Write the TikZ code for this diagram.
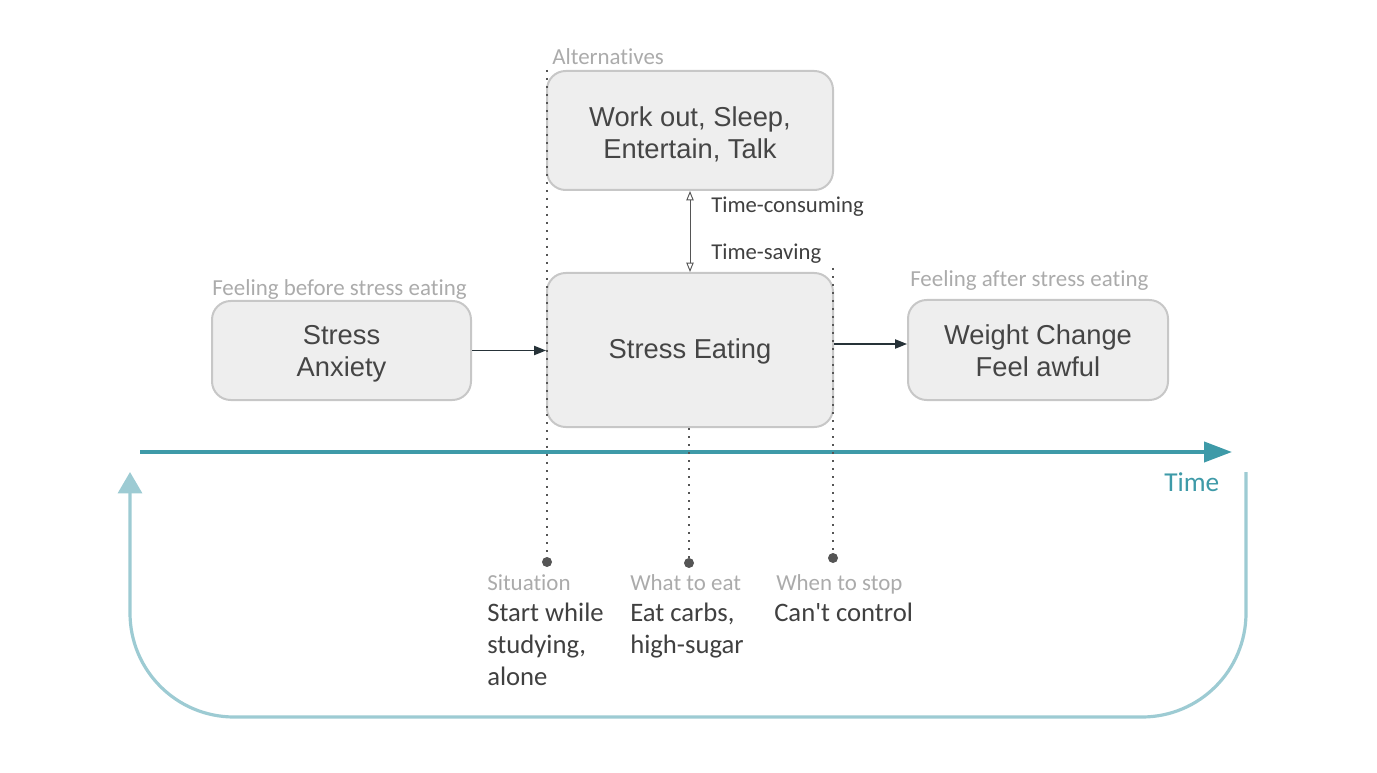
\documentclass[tikz,border=0pt]{standalone}
\usepackage{fontspec}
\setmainfont{Carlito}[Ligatures={NoCommon}]
\newfontfamily\carlnq{Carlito}[Ligatures={NoCommon}]
\newfontfamily\arialf{Liberation Sans}
\usetikzlibrary{arrows.meta}
\definecolor{boxfill}{HTML}{EEEEEE}
\definecolor{boxline}{HTML}{C7C7C7}
\definecolor{boxtext}{HTML}{454545}
\definecolor{lblgray}{HTML}{ABABAB}
\definecolor{bodytext}{HTML}{404040}
\definecolor{teal}{HTML}{3E9AA8}
\definecolor{lteal}{HTML}{9DCBD3}
\definecolor{darkarr}{HTML}{263238}
\definecolor{dotcol}{HTML}{555555}
\newcommand{\boxlines}[2][2pt]{\raisebox{-#1}[\height][\depth]{\begin{tabular}{@{}c@{}}#2\end{tabular}}}
\tikzset{
  box/.style={draw=boxline, line width=1.5pt, fill=boxfill, rounded corners=14pt,
    text=boxtext, font=\arialf\fontsize{20.5}{24}\selectfont, align=center, inner sep=0pt},
  lbl/.style={text=lblgray, font=\fontsize{17.2}{20}\selectfont, anchor=base west, inner sep=0pt},
  body/.style={text=bodytext, font=\fontsize{20}{24}\selectfont, anchor=base west, align=left, inner sep=0pt},
  small/.style={text=bodytext, font=\fontsize{17}{20}\selectfont, anchor=base west, inner sep=0pt},
  flow/.style={draw=darkarr, line width=0.9pt, -{Triangle[length=9pt,width=7pt]}},
  dbl/.style={draw=dotcol, line width=0.7pt, {Triangle[open,length=7pt,width=5.5pt]}-{Triangle[open,length=7pt,width=5.5pt]}},
  dots/.style={draw=dotcol, line width=1.6pt, dash pattern=on 1.6pt off 4.4pt},
  endpt/.style={circle, fill=dotcol, inner sep=0pt, minimum size=7.5pt},
}
\begin{document}
\begin{tikzpicture}[x=0.75pt,y=-0.75pt]
\useasboundingbox (0,0) rectangle (1377,773);
% boxes
\node[box, minimum width=214.5pt, minimum height=89.25pt] (alt) at (690,130.5) {\boxlines[4pt]{Work out, Sleep,\\Entertain, Talk}};
\node[box, minimum width=214.5pt, minimum height=115.5pt] (eat) at (690,350) {\boxlines[1.5pt]{Stress Eating}};
\node[box, minimum width=194.25pt, minimum height=74.25pt] (anx) at (341.5,350.5) {\boxlines[3pt]{Stress\\Anxiety}};
\node[box, minimum width=195pt, minimum height=75pt] (wc) at (1038,350) {\boxlines[3pt]{Weight Change\\Feel awful}};
% labels
\node[lbl] (lalt) at (552,65) {Alternatives};
\node[lbl] (lbef) at (212,296) {Feeling before stress eating};
\node[lbl] (laft) at (910,287) {Feeling after stress eating};
\node[small] (tc) at (711,213) {Time-consuming};
\node[small] (ts) at (711,260) {Time-saving};
% flow arrows
\draw[flow] (anx.east) -- (anx.east -| eat.west);
\draw[flow] ([yshift=4.5pt]eat.east) -- ([yshift=4.5pt]wc.west);
\draw[dbl] (alt.south) -- (eat.north);
% time axis
\coordinate (t0) at (140,452);
\coordinate (t1) at (1232,452);
\draw[teal, line width=3pt, -{Triangle[length=21pt,width=15pt]}] (t0) -- (t1);
\node[text=teal, font=\fontsize{20.5}{24}\selectfont, anchor=base west, inner sep=0pt] (time) at (1164,491) {Time};
% loop
\coordinate (l0) at (1246,472);
\coordinate (l1) at (1246,717);
\coordinate (l2) at (130,717);
\coordinate (l3) at (130,472);
\draw[lteal, line width=2.4pt, rounded corners=78pt, -{Triangle[length=16pt,width=18pt]}] (l0) -- (l1) -- (l2) -- (l3);
% dotted lines and end points
\node[endpt] (d1) at (547,562) {};
\node[endpt] (d2) at (689,563) {};
\node[endpt] (d3) at (833,558) {};
\coordinate (s1) at (547,70);
\coordinate (s2) at (689,428);
\coordinate (s3) at (833,268);
\draw[dots] (s1) -- (d1);
\draw[dots] (s2) -- (d2);
\draw[dots] (s3) -- (d3);
% bottom labels
\node[lbl] (sit) at (487,590) {Situation};
\node[body] (sitb) at (487,685) {Start while\\studying,\\alone};
\node[lbl] (what) at (630,590) {What to eat};
\node[body] (whatb) at (630,653) {Eat carbs,\\high-sugar};
\node[lbl] (when) at (776,590) {When to stop};
\node[body] (whenb) at (774,621) {Can{\carlnq'}t control};
\end{tikzpicture}
\end{document}
